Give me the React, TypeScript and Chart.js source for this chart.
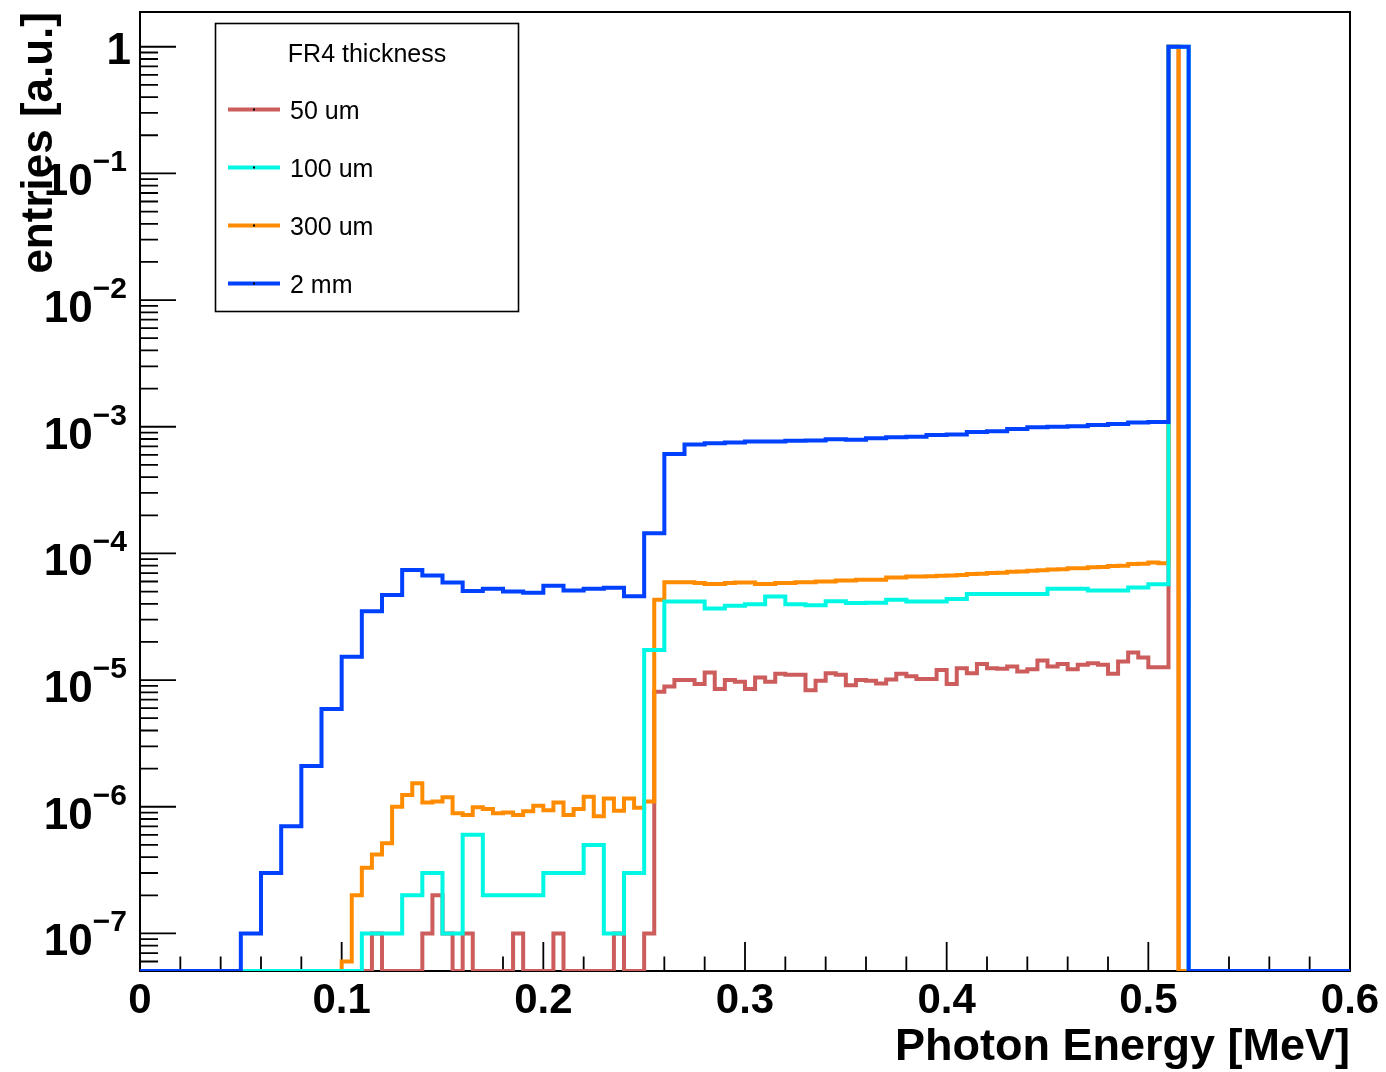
import React, { useEffect, useRef } from 'react';
import { Chart, registerables } from 'chart.js';

Chart.register(...registerables);

// ---------- data ----------
const BIN_COARSE = 0.01; // 100 um and 2 mm histograms
const BIN_FINE = 0.005; // 50 um and 300 um histograms

const series50um = [
  0, 0, 0, 0, 0, 0, 0, 0, 0, 0,
  0, 0, 0, 0, 0, 0, 0, 0, 0, 0,
  0, 0, 0, 1e-7, 0, 0, 0, 0, 1e-7, 2e-7,
  1e-7, 0, 1e-7, 0, 0, 0, 0, 1e-7, 0, 0,
  0, 1e-7, 0, 0, 0, 0, 0, 1e-7, 0, 0,
  1e-7, 8.1e-6, 8.9e-6, 1.0e-5, 1.0e-5, 9.3e-6, 1.15e-5, 8.5e-6, 1.0e-5, 9.7e-6,
  8.5e-6, 1.05e-5, 9.7e-6, 1.12e-5, 1.1e-5, 1.1e-5, 8.3e-6, 9.9e-6, 1.13e-5, 1.1e-5,
  9.1e-6, 1.0e-5, 9.9e-6, 9.4e-6, 1.01e-5, 1.12e-5, 1.07e-5, 1.02e-5, 1.02e-5, 1.2e-5,
  9.3e-6, 1.24e-5, 1.13e-5, 1.34e-5, 1.24e-5, 1.23e-5, 1.28e-5, 1.17e-5, 1.22e-5, 1.43e-5,
  1.28e-5, 1.34e-5, 1.22e-5, 1.32e-5, 1.36e-5, 1.32e-5, 1.12e-5, 1.4e-5, 1.65e-5, 1.51e-5,
  1.26e-5, 1.26e-5, 1, 0, 0, 0, 0, 0, 0, 0,
  0, 0, 0, 0, 0, 0, 0, 0, 0, 0,
];

const series100um = [
  0, 0, 0, 0, 0, 0, 0, 0, 0, 0,
  0, 1e-7, 1e-7, 2e-7, 3e-7, 1e-7, 6e-7, 2e-7, 2e-7, 2e-7,
  3e-7, 3e-7, 5e-7, 1e-7, 3e-7, 1.73e-5, 4.17e-5, 4.17e-5, 3.67e-5, 3.86e-5,
  3.97e-5, 4.56e-5, 3.97e-5, 3.89e-5, 4.2e-5, 4.06e-5, 4.08e-5, 4.3e-5, 4.17e-5, 4.17e-5,
  4.37e-5, 4.79e-5, 4.79e-5, 4.79e-5, 4.79e-5, 5.25e-5, 5.25e-5, 5.1e-5, 5.1e-5, 5.37e-5,
  5.71e-5, 1, 0, 0, 0, 0, 0, 0, 0, 0,
];

const series300um = [
  0, 0, 0, 0, 0, 0, 0, 0, 0, 0,
  0, 0, 0, 0, 0, 0, 0, 0, 0, 0,
  6.0e-8, 2.0e-7, 3.3e-7, 4.2e-7, 5.15e-7, 1.0e-6, 1.24e-6, 1.53e-6, 1.08e-6, 1.1e-6,
  1.19e-6, 8.9e-7, 8.6e-7, 9.9e-7, 9.6e-7, 8.9e-7, 9.0e-7, 8.6e-7, 9.2e-7, 1.02e-6,
  9.4e-7, 1.08e-6, 8.6e-7, 9.6e-7, 1.2e-6, 8.4e-7, 1.16e-6, 9.3e-7, 1.16e-6, 9.8e-7,
  1.1e-6, 4.3e-5, 5.92e-5, 5.92e-5, 5.92e-5, 5.85e-5, 5.74e-5, 5.74e-5, 5.85e-5, 5.88e-5,
  5.88e-5, 5.74e-5, 5.74e-5, 5.85e-5, 5.85e-5, 5.92e-5, 5.92e-5, 6.0e-5, 6.0e-5, 6.1e-5,
  6.1e-5, 6.2e-5, 6.2e-5, 6.2e-5, 6.45e-5, 6.45e-5, 6.56e-5, 6.56e-5, 6.6e-5, 6.65e-5,
  6.68e-5, 6.75e-5, 6.89e-5, 6.9e-5, 7.0e-5, 7.05e-5, 7.18e-5, 7.2e-5, 7.3e-5, 7.35e-5,
  7.48e-5, 7.5e-5, 7.64e-5, 7.65e-5, 7.78e-5, 7.8e-5, 7.96e-5, 8.0e-5, 8.26e-5, 8.3e-5,
  8.46e-5, 8.35e-5, 1, 0, 0, 0, 0, 0, 0, 0,
  0, 0, 0, 0, 0, 0, 0, 0, 0, 0,
];

const series2mm = [
  0, 0, 0, 0, 0, 1e-7, 3.0e-7, 7.0e-7, 2.1e-6, 5.9e-6,
  1.53e-5, 3.5e-5, 4.7e-5, 7.4e-5, 6.7e-5, 5.9e-5, 5.05e-5, 5.25e-5, 5.0e-5, 4.9e-5,
  5.55e-5, 5.1e-5, 5.25e-5, 5.35e-5, 4.6e-5, 1.44e-4, 6.1e-4, 7.25e-4, 7.4e-4, 7.5e-4,
  7.65e-4, 7.65e-4, 7.75e-4, 7.8e-4, 7.95e-4, 7.9e-4, 8.1e-4, 8.25e-4, 8.35e-4, 8.6e-4,
  8.7e-4, 9.1e-4, 9.2e-4, 9.6e-4, 9.9e-4, 1.0e-3, 1.01e-3, 1.03e-3, 1.05e-3, 1.08e-3,
  1.09e-3, 1, 0, 0, 0, 0, 0, 0, 0, 0,
];

const seriesLabels = ['50 um', '100 um', '300 um', '2 mm'];
const seriesColors = ['#cd5c5c', '#00f7e4', '#ff8c00', '#0040ff'];
// drawing order (higher = drawn earlier / underneath)
const seriesDrawOrder = [4, 2, 3, 1];
const legendTitle = 'FR4 thickness';

const xTickValues = [0, 0.1, 0.2, 0.3, 0.4, 0.5, 0.6];
const xTickLabels = ['0', '0.1', '0.2', '0.3', '0.4', '0.5', '0.6'];
const yTickValues = [1, 1e-1, 1e-2, 1e-3, 1e-4, 1e-5, 1e-6, 1e-7];
const yTickLabels = ['1', '10^-1', '10^-2', '10^-3', '10^-4', '10^-5', '10^-6', '10^-7'];

const xTitle = 'Photon Energy [MeV]';
const yTitle = 'entries [a.u.]';

const X_MIN = 0;
const X_MAX = 0.6;
const Y_MIN = 5.05e-8;
const Y_MAX = 1.88;

const FONT = '"Liberation Sans", Arial, Helvetica, sans-serif';

function toSteps(values: number[], width: number) {
  const pts = values.map((v, i) => ({ x: i * width, y: v > 0 ? v : Y_MIN }));
  const last = values[values.length - 1];
  pts.push({ x: values.length * width, y: last > 0 ? last : Y_MIN });
  return pts;
}

const rootStylePlugin = {
  id: 'rootStyle',
  beforeDatasetsDraw(chart: any) {
    const { ctx, chartArea: a, scales } = chart;
    const xs = scales.x;
    const ys = scales.y;
    ctx.save();
    ctx.strokeStyle = '#000';
    ctx.lineWidth = 2;
    ctx.strokeRect(a.left, a.top, a.right - a.left, a.bottom - a.top);
    ctx.lineWidth = 1.8;
    ctx.beginPath();
    for (let i = 0; i <= 30; i++) {
      const v = i * 0.02;
      const px = xs.getPixelForValue(v);
      const len = i % 5 === 0 ? 29 : 14.5;
      ctx.moveTo(px, a.bottom);
      ctx.lineTo(px, a.bottom - len);
    }
    for (let e = -8; e <= 0; e++) {
      for (let m = 1; m <= 9; m++) {
        const v = m * Math.pow(10, e);
        if (v < ys.min || v > ys.max) continue;
        const py = ys.getPixelForValue(v);
        const len = m === 1 ? 36 : 18;
        ctx.moveTo(a.left, py);
        ctx.lineTo(a.left + len, py);
      }
    }
    ctx.stroke();
    ctx.restore();
  },
  afterDraw(chart: any) {
    const { ctx, scales } = chart;
    const ys = scales.y;
    ctx.save();
    ctx.fillStyle = '#000';
    ctx.textAlign = 'right';
    ctx.textBaseline = 'alphabetic';
    yTickValues.forEach((v, i) => {
      const py = ys.getPixelForValue(v);
      const parts = yTickLabels[i].split('^');
      if (parts.length === 1) {
        ctx.font = `bold 44px ${FONT}`;
        ctx.fillText(parts[0], 131, py + 17);
      } else {
        const sup = parts[1].replace('-', '\u2212');
        ctx.font = `bold 30px ${FONT}`;
        const w = ctx.measureText(sup).width;
        ctx.fillText(sup, 127, py - 2);
        ctx.font = `bold 44px ${FONT}`;
        ctx.fillText(parts[0], 127 - w, py + 22);
      }
    });

    // legend box
    ctx.strokeStyle = '#000';
    ctx.lineWidth = 1.6;
    ctx.strokeRect(215.5, 23.5, 303, 288);
    ctx.font = `25px ${FONT}`;
    ctx.textAlign = 'center';
    ctx.fillText(legendTitle, 367, 62);
    ctx.textAlign = 'left';
    chart.data.datasets.forEach((ds: any, i: number) => {
      const ly = 109.5 + i * 58;
      ctx.strokeStyle = ds.borderColor;
      ctx.lineWidth = 4;
      ctx.beginPath();
      ctx.moveTo(228, ly);
      ctx.lineTo(280, ly);
      ctx.stroke();
      ctx.fillStyle = '#000';
      ctx.fillRect(253, ly - 1, 2, 2);
      ctx.fillText(ds.label, 290, ly + 9);
    });
    ctx.restore();
  },
};

export default function App() {
  const ref = useRef<HTMLCanvasElement>(null);

  useEffect(() => {
    const canvas = ref.current;
    if (!canvas) return;
    const seriesData = [
      toSteps(series50um, BIN_FINE),
      toSteps(series100um, BIN_COARSE),
      toSteps(series300um, BIN_FINE),
      toSteps(series2mm, BIN_COARSE),
    ];
    const chart = new Chart(canvas, {
      type: 'line',
      data: {
        datasets: seriesLabels.map((label, i) => ({
          label,
          data: seriesData[i],
          borderColor: seriesColors[i],
          backgroundColor: seriesColors[i],
          borderWidth: 4,
          stepped: true,
          pointRadius: 0,
          pointHoverRadius: 0,
          fill: false,
          tension: 0,
          borderJoinStyle: 'miter',
          borderCapStyle: 'butt',
          order: seriesDrawOrder[i],
        })),
      },
      options: {
        responsive: false,
        animation: false,
        devicePixelRatio: 1,
        events: [],
        layout: { padding: { left: 0, right: 36, top: 12, bottom: 0 } },
        plugins: {
          legend: { display: false },
          tooltip: { enabled: false },
        },
        scales: {
          x: {
            type: 'linear',
            min: X_MIN,
            max: X_MAX,
            grid: { display: false, drawTicks: false },
            border: { display: false },
            afterBuildTicks: (scale: any) => {
              scale.ticks = xTickValues.map((v) => ({ value: v }));
            },
            afterFit: (scale: any) => {
              scale.height = 101;
            },
            ticks: {
              autoSkip: false,
              maxRotation: 0,
              minRotation: 0,
              padding: 5,
              color: '#000',
              font: { family: FONT, size: 42, weight: 'bold', lineHeight: 1.2 },
              callback: (_v: any, index: number) => xTickLabels[index],
            },
            title: {
              display: true,
              text: xTitle,
              align: 'end',
              color: '#000',
              font: { family: FONT, size: 45, weight: 'bold', lineHeight: 1.0 },
              padding: { top: 0, bottom: 2 },
            },
          },
          y: {
            type: 'logarithmic',
            min: Y_MIN,
            max: Y_MAX,
            grid: { display: false, drawTicks: false },
            border: { display: false },
            afterBuildTicks: (scale: any) => {
              scale.ticks = yTickValues.map((v) => ({ value: v }));
            },
            afterFit: (scale: any) => {
              scale.width = 140;
            },
            ticks: { display: false },
            title: {
              display: true,
              text: yTitle,
              align: 'end',
              color: '#000',
              font: { family: FONT, size: 44, weight: 'bold', lineHeight: 1.2 },
              padding: { top: 13, bottom: 0 },
            },
          },
        },
      } as any,
      plugins: [rootStylePlugin],
    });
    return () => chart.destroy();
  }, []);

  return (
    <div style={{ position: 'absolute', left: 0, top: 0, width: 1386, height: 1072, background: '#fff' }}>
      <canvas ref={ref} width={1386} height={1072} style={{ display: 'block', width: 1386, height: 1072 }} />
    </div>
  );
}
